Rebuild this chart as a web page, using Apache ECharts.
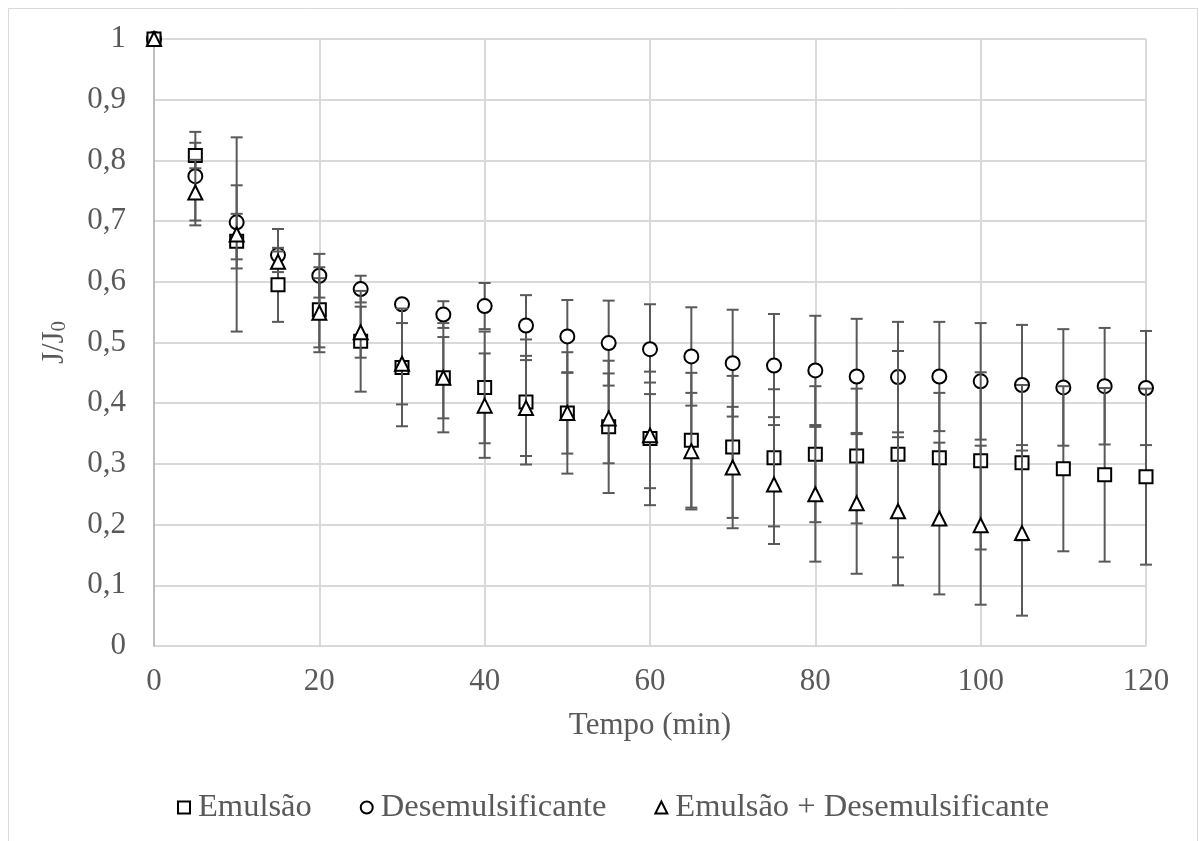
<!DOCTYPE html>
<html>
<head>
<meta charset="utf-8">
<script src="https://cdn.jsdelivr.net/npm/echarts@6/dist/echarts.min.js"></script>
<style>
  html, body { margin: 0; padding: 0; background: #fff; }
  #chart { width: 1199px; height: 841px; }
</style>
</head>
<body>
<div id="chart"></div>
<script>
// Tempo de filtração (min)
const tempo = [0, 5, 10, 15, 20, 25, 30, 35, 40, 45, 50, 55, 60, 65, 70, 75, 80, 85, 90, 95, 100, 105, 110, 115, 120];

// Fluxo normalizado J/J0 e desvios
const emulsao = [1, 0.808, 0.667, 0.595, 0.554, 0.502, 0.459, 0.442, 0.426, 0.402, 0.384, 0.361, 0.342, 0.339, 0.328, 0.310, 0.316, 0.313, 0.316, 0.310, 0.305, 0.302, 0.292, 0.282, 0.279];
const emulsaoErr = [0, 0.021, 0.045, 0.061, 0.070, 0.083, 0.097, 0.090, 0.092, 0.103, 0.100, 0.109, 0.110, 0.111, 0.117, 0.113, 0.112, 0.111, 0.170, 0.107, 0.146, 0.128, 0.136, 0.143, 0.145];

const desemulsificante = [1, 0.774, 0.698, 0.644, 0.610, 0.588, 0.563, 0.546, 0.560, 0.528, 0.510, 0.499, 0.489, 0.477, 0.466, 0.462, 0.454, 0.444, 0.443, 0.444, 0.436, 0.430, 0.426, 0.428, 0.425];
const desemulsificanteErr = [0, 0.073, 0.061, 0.043, 0.036, 0.022, 0.005, 0.022, 0.038, 0.050, 0.060, 0.070, 0.074, 0.081, 0.088, 0.085, 0.090, 0.095, 0.091, 0.090, 0.096, 0.099, 0.096, 0.096, 0.094];

const emulsaoDesem = [1, 0.747, 0.678, 0.633, 0.549, 0.517, 0.465, 0.442, 0.396, 0.392, 0.384, 0.375, 0.347, 0.321, 0.294, 0.266, 0.250, 0.235, 0.222, 0.210, 0.199, 0.186, null, null, null];
const emulsaoDesemErr = [0, 0.054, 0.160, 0.017, 0.057, 0.042, 0.067, 0.067, 0.086, 0.079, 0.067, 0.074, 0.087, 0.096, 0.100, 0.098, 0.111, 0.116, 0.122, 0.125, 0.131, 0.136, null, null, null];

const yTicks = ['0', '0,1', '0,2', '0,3', '0,4', '0,5', '0,6', '0,7', '0,8', '0,9', '1'];

const FONT = 'Liberation Serif';
const GREY = '#595959';

function points(vals) {
  return tempo.map((t, i) => vals[i] == null ? null : [t, vals[i]]).filter(Boolean);
}
function ranges(vals, errs) {
  return tempo.map((t, i) => (vals[i] == null || !errs[i]) ? null : [t, vals[i] - errs[i], vals[i] + errs[i]]).filter(Boolean);
}

// Vertical error bar with end caps
function drawErrorBar(params, api) {
  const x = api.value(0);
  const lo = api.coord([x, api.value(1)]);
  const hi = api.coord([x, api.value(2)]);
  const w = 6;
  const style = { stroke: GREY, lineWidth: 2, fill: null };
  return {
    type: 'group',
    children: [
      { type: 'line', shape: { x1: lo[0], y1: lo[1], x2: hi[0], y2: hi[1] }, style },
      { type: 'line', shape: { x1: lo[0] - w, y1: lo[1], x2: lo[0] + w, y2: lo[1] }, style },
      { type: 'line', shape: { x1: hi[0] - w, y1: hi[1], x2: hi[0] + w, y2: hi[1] }, style }
    ]
  };
}

function markerSeries(name, symbol, size, vals, z) {
  return {
    name, type: 'scatter', symbol, symbolSize: size, z,
    data: points(vals),
    itemStyle: { color: '#ffffff', borderColor: '#000000', borderWidth: 2, opacity: 1 },
    emphasis: { disabled: true }
  };
}
function barSeries(vals, errs, z) {
  return {
    type: 'custom', z, renderItem: drawErrorBar,
    data: ranges(vals, errs), silent: true
  };
}

const chart = echarts.init(document.getElementById('chart'), null, { renderer: 'canvas' });
chart.setOption({
  animation: false,
  backgroundColor: '#ffffff',
  textStyle: { fontFamily: FONT },
  graphic: [{
    type: 'rect', silent: true, z: 0,
    shape: { x: 8.5, y: 8.5, width: 1189, height: 850 },
    style: { fill: null, stroke: '#d9d9d9', lineWidth: 1 }
  }],
  grid: { left: 154, right: 53, top: 39, bottom: 195, containLabel: false },
  xAxis: {
    type: 'value', min: 0, max: 120, interval: 20,
    name: 'Tempo (min)', nameLocation: 'middle', nameGap: 64,
    nameTextStyle: { fontFamily: FONT, fontSize: 31, color: GREY },
    axisLine: { show: false },
    axisTick: { show: false },
    axisLabel: { fontFamily: FONT, fontSize: 31, color: GREY, margin: 20 },
    splitLine: { show: true, lineStyle: { color: '#d9d9d9', width: 2 } }
  },
  yAxis: {
    type: 'value', min: 0, max: 1, interval: 0.1,
    name: '{a|J/J}{b|0}', nameLocation: 'middle', nameGap: 84, nameRotate: 90,
    nameTextStyle: {
      color: GREY,
      rich: {
        a: { fontFamily: FONT, fontSize: 31, color: GREY, lineHeight: 36, verticalAlign: 'bottom' },
        b: { fontFamily: FONT, fontSize: 21, color: GREY, lineHeight: 30, verticalAlign: 'bottom' }
      }
    },
    axisLine: { show: true, onZero: false, lineStyle: { color: '#bfbfbf', width: 2 } },
    axisTick: { show: false },
    axisLabel: {
      fontFamily: FONT, fontSize: 31, color: GREY, margin: 28,
      formatter: (v) => yTicks[Math.round(v * 10)]
    },
    splitLine: { show: true, lineStyle: { color: '#d9d9d9', width: 2 } }
  },
  legend: {
    bottom: 12, left: 172,
    itemWidth: 12, itemHeight: 12, itemGap: 48,
    textStyle: { fontFamily: FONT, fontSize: 32.5, color: GREY, padding: [0, 0, 0, 3] },
    data: ['Emulsão', 'Desemulsificante', 'Emulsão + Desemulsificante']
  },
  series: [
    barSeries(desemulsificante, desemulsificanteErr, 1),
    markerSeries('Desemulsificante', 'circle', 14, desemulsificante, 2),
    barSeries(emulsao, emulsaoErr, 3),
    markerSeries('Emulsão', 'rect', 13, emulsao, 4),
    barSeries(emulsaoDesem, emulsaoDesemErr, 5),
    markerSeries('Emulsão + Desemulsificante', 'triangle', 14, emulsaoDesem, 6)
  ]
});
</script>
</body>
</html>
